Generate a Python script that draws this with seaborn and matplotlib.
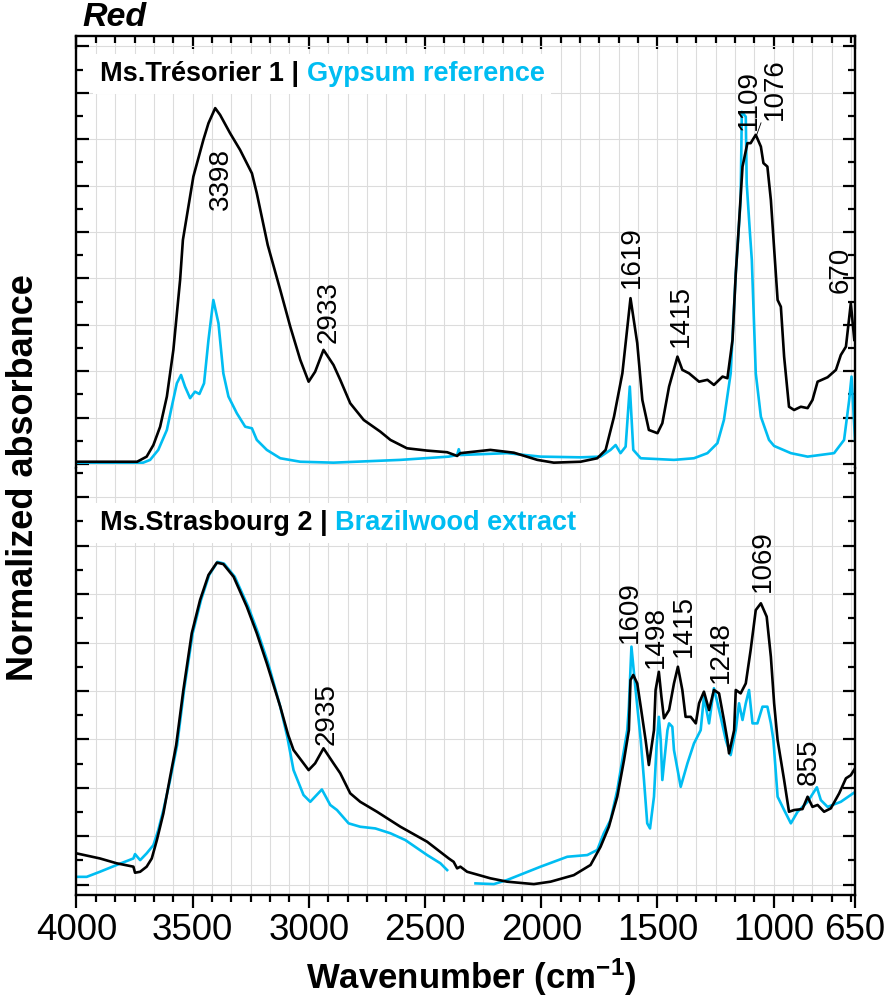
import numpy as np
import pandas as pd
import matplotlib
matplotlib.use('Agg')
import matplotlib.pyplot as plt
import matplotlib.ticker as mticker
import seaborn as sns

# spectra: wavenumber (cm-1) / normalized absorbance
# top panel, Ms.Tresorier 1 (black)
tres_wn = [4000, 3739, 3698, 3669, 3640, 3611, 3583, 3554, 3542, 3497,
           3454, 3432, 3403, 3382, 3339, 3296, 3245, 3224, 3177, 3123,
           3080, 3037, 3001, 2973, 2937, 2894, 2865, 2822, 2764, 2693,
           2649, 2578, 2491, 2405, 2362, 2348, 2219, 2118, 2017, 1946,
           1831, 1759, 1723, 1687, 1651, 1616, 1587, 1565, 1537, 1500,
           1479, 1450, 1414, 1393, 1364, 1321, 1285, 1257, 1220, 1199,
           1177, 1163, 1155, 1134, 1113, 1099, 1077, 1055, 1044, 1027,
           1012, 999, 983, 969, 955, 934, 912, 883, 854, 833,
           811, 768, 732, 711, 689, 668, 653]
tres_abs = [0.010, 0.010, 0.032, 0.082, 0.161, 0.291, 0.492, 0.794, 0.966, 1.239,
            1.397, 1.469, 1.534, 1.505, 1.426, 1.354, 1.253, 1.167, 0.944, 0.750,
            0.592, 0.449, 0.355, 0.398, 0.492, 0.427, 0.363, 0.262, 0.190, 0.140,
            0.104, 0.068, 0.058, 0.051, 0.035, 0.047, 0.061, 0.049, 0.018, 0.006,
            0.010, 0.025, 0.061, 0.204, 0.391, 0.715, 0.521, 0.276, 0.147, 0.133,
            0.176, 0.334, 0.463, 0.406, 0.391, 0.355, 0.363, 0.341, 0.377, 0.370,
            0.535, 0.822, 0.944, 1.282, 1.383, 1.383, 1.419, 1.368, 1.297, 1.282,
            1.138, 0.944, 0.707, 0.678, 0.463, 0.247, 0.233, 0.247, 0.241, 0.276,
            0.355, 0.374, 0.406, 0.470, 0.506, 0.693, 0.535]

# top panel, gypsum reference (cyan)
gyps_wn = [4000, 3713, 3683, 3648, 3611, 3590, 3568, 3550, 3533, 3511,
           3490, 3471, 3451, 3432, 3411, 3389, 3368, 3346, 3310, 3274,
           3245, 3224, 3181, 3123, 3037, 2894, 2606, 2398, 2362, 2355,
           2348, 2147, 2003, 1831, 1745, 1702, 1680, 1659, 1637, 1619,
           1604, 1572, 1429, 1343, 1285, 1242, 1214, 1185, 1163, 1142,
           1137, 1120, 1116, 1102, 1094, 1077, 1055, 1020, 998, 926,
           854, 740, 697, 675, 665, 653, 650]
gyps_abs = [0.006, 0.006, 0.018, 0.061, 0.147, 0.247, 0.348, 0.384, 0.334, 0.284,
            0.312, 0.302, 0.348, 0.535, 0.707, 0.607, 0.391, 0.291, 0.219, 0.161,
            0.154, 0.104, 0.061, 0.025, 0.010, 0.006, 0.018, 0.032, 0.039, 0.064,
            0.039, 0.047, 0.032, 0.029, 0.032, 0.061, 0.082, 0.047, 0.075, 0.334,
            0.061, 0.025, 0.018, 0.025, 0.047, 0.090, 0.190, 0.391, 0.822, 1.138,
            1.518, 1.497, 1.210, 0.995, 0.880, 0.391, 0.204, 0.104, 0.078, 0.047,
            0.032, 0.047, 0.104, 0.276, 0.377, 0.161, 0.104]

# bottom panel, Ms.Strasbourg 2 (black)
stras_wn = [4000, 3899, 3827, 3755, 3748, 3726, 3698, 3676, 3654, 3626,
            3597, 3571, 3540, 3504, 3468, 3432, 3396, 3368, 3324, 3267,
            3224, 3181, 3123, 3089, 3066, 3001, 2973, 2937, 2894, 2865,
            2822, 2779, 2707, 2606, 2491, 2398, 2377, 2362, 2348, 2319,
            2219, 2147, 2032, 1960, 1860, 1788, 1745, 1709, 1673, 1644,
            1623, 1616, 1604, 1587, 1572, 1551, 1537, 1515, 1508, 1494,
            1483, 1472, 1450, 1429, 1412, 1393, 1379, 1357, 1335, 1321,
            1300, 1278, 1257, 1235, 1214, 1199, 1192, 1170, 1163, 1142,
            1120, 1099, 1077, 1055, 1030, 1012, 998, 983, 955, 934,
            912, 876, 854, 833, 811, 783, 754, 718, 689, 668,
            650]
stras_abs = [0.129, 0.108, 0.088, 0.074, 0.049, 0.053, 0.074, 0.108, 0.184, 0.294,
             0.445, 0.576, 0.804, 1.038, 1.176, 1.279, 1.330, 1.324, 1.272, 1.148,
             1.038, 0.914, 0.735, 0.618, 0.556, 0.473, 0.501, 0.563, 0.501, 0.460,
             0.377, 0.342, 0.301, 0.239, 0.177, 0.108, 0.094, 0.067, 0.074, 0.053,
             0.026, 0.012, 0.002, 0.012, 0.039, 0.081, 0.156, 0.239, 0.363, 0.514,
             0.638, 0.845, 0.866, 0.831, 0.735, 0.597, 0.494, 0.638, 0.804, 0.879,
             0.776, 0.687, 0.721, 0.831, 0.900, 0.804, 0.693, 0.693, 0.666, 0.749,
             0.797, 0.721, 0.804, 0.790, 0.680, 0.597, 0.542, 0.638, 0.804, 0.790,
             0.831, 0.969, 1.134, 1.162, 1.107, 0.941, 0.749, 0.597, 0.432, 0.301,
             0.308, 0.312, 0.363, 0.321, 0.329, 0.301, 0.315, 0.377, 0.439, 0.452,
             0.480]

# bottom panel, brazilwood extract (cyan) - two pieces, gap near 2400-2280
braz_wn_a = [4000, 3956, 3899, 3827, 3755, 3748, 3726, 3698, 3669, 3648,
             3626, 3597, 3567, 3537, 3500, 3464, 3429, 3393, 3365, 3319,
             3261, 3218, 3175, 3123, 3093, 3066, 3023, 2994, 2944, 2908,
             2879, 2829, 2779, 2714, 2649, 2585, 2491, 2434, 2405]
braz_abs_a = [0.032, 0.032, 0.053, 0.081, 0.108, 0.126, 0.101, 0.129, 0.163, 0.225,
              0.308, 0.432, 0.576, 0.804, 1.038, 1.176, 1.279, 1.333, 1.326, 1.272,
              1.148, 1.038, 0.914, 0.735, 0.611, 0.473, 0.370, 0.342, 0.393, 0.329,
              0.308, 0.253, 0.239, 0.232, 0.212, 0.184, 0.122, 0.088, 0.060]
braz_wn_b = [2283, 2204, 2147, 2003, 1888, 1802, 1759, 1731, 1702, 1673,
             1644, 1630, 1623, 1612, 1594, 1572, 1558, 1544, 1532, 1515,
             1504, 1494, 1486, 1479, 1457, 1450, 1436, 1429, 1400, 1371,
             1343, 1314, 1300, 1278, 1257, 1228, 1206, 1185, 1163, 1149,
             1134, 1120, 1106, 1091, 1070, 1048, 1027, 1012, 1001, 983,
             955, 926, 897, 854, 814, 797, 768, 711, 649]
braz_abs_b = [0.005, 0.002, 0.019, 0.074, 0.115, 0.122, 0.143, 0.212, 0.267, 0.390,
              0.556, 0.638, 0.735, 0.983, 0.804, 0.597, 0.432, 0.253, 0.232, 0.363,
              0.569, 0.693, 0.597, 0.432, 0.638, 0.666, 0.652, 0.556, 0.404, 0.501,
              0.583, 0.638, 0.776, 0.666, 0.811, 0.693, 0.597, 0.535, 0.638, 0.749,
              0.680, 0.749, 0.804, 0.666, 0.666, 0.735, 0.735, 0.666, 0.597, 0.363,
              0.308, 0.253, 0.301, 0.342, 0.402, 0.349, 0.321, 0.342, 0.383]

top_peaks = ['3398', '2933', '1619', '1415', '1109', '1076', '670']
bot_peaks = ['2935', '1609', '1498', '1415', '1248', '1069', '855']
x_ticks = [4000, 3500, 3000, 2500, 2000, 1500, 1000, 650]

# where the peak labels sit (wavenumber, absorbance)
top_lab_x = [3380, 2915, 1610, 1399, 1106, 994, 712]
top_lab_y = [1.095, 0.522, 0.759, 0.505, 1.440, 1.483, 0.738]
bot_lab_x = [2924, 1618, 1506, 1386, 1226, 1045, 847]
bot_lab_y = [0.576, 0.998, 0.895, 0.940, 0.833, 1.209, 0.411]

CYAN = '#00BDF2'
GRID = '#dcdcdc'

plt.rcParams['font.family'] = ['Liberation Sans', 'DejaVu Sans']
plt.rcParams['mathtext.fontset'] = 'custom'
plt.rcParams['mathtext.rm'] = 'Liberation Sans'
plt.rcParams['mathtext.it'] = 'Liberation Sans:italic'
plt.rcParams['mathtext.bf'] = 'Liberation Sans:bold'

fig = plt.figure(figsize=(8.85, 10), dpi=100)
ax_top = fig.add_axes([0.0864, 0.532, 0.8797, 0.4325])
ax_bot = fig.add_axes([0.0864, 0.105, 0.8797, 0.427])


def draw(ax, wn, ab, color):
    sns.lineplot(x=wn, y=ab, ax=ax, color=color, lw=1.9, sort=False, estimator=None)


def style(ax, ylim):
    ax.set_xlim(4000, 650)
    ax.set_ylim(*ylim)
    ax.set_xticks(x_ticks, labels=[str(v) for v in x_ticks])
    ax.xaxis.set_minor_locator(mticker.MultipleLocator(250 / 3))
    ax.yaxis.set_major_locator(mticker.MultipleLocator(0.2))
    ax.yaxis.set_minor_locator(mticker.MultipleLocator(0.1))
    ax.grid(which='both', axis='x', color=GRID, lw=0.8)
    ax.grid(which='major', axis='y', color=GRID, lw=0.8)
    ax.set_axisbelow(True)
    for s in ax.spines.values():
        s.set_linewidth(1.7)
    ax.tick_params(axis='y', which='both', left=True, right=True, direction='in',
                   labelleft=False, width=1.6)
    ax.tick_params(axis='both', which='major', length=9)
    ax.tick_params(axis='both', which='minor', length=5)
    ax.set_xlabel('')
    ax.set_ylabel('')


draw(ax_top, gyps_wn, gyps_abs, CYAN)
draw(ax_top, tres_wn, tres_abs, 'black')
draw(ax_bot, braz_wn_a, braz_abs_a, CYAN)
draw(ax_bot, braz_wn_b, braz_abs_b, CYAN)
draw(ax_bot, stras_wn, stras_abs, 'black')

style(ax_top, (-0.017, 1.847))
style(ax_bot, (-0.043, 1.721))

ax_top.spines['bottom'].set_visible(False)
ax_bot.spines['top'].set_visible(False)
ax_top.tick_params(axis='x', which='both', bottom=False, top=True, labelbottom=False,
                   direction='in', width=1.6)
ax_bot.tick_params(axis='x', which='both', bottom=True, top=False, direction='out',
                   width=1.6, labelsize=26.5, pad=4)


def panel_label(ax, y, first, second):
    box = dict(fc='white', ec='none', pad=5)
    t = ax.text(3899, y, first, fontsize=19.5, fontweight='bold', color='black',
                va='baseline', ha='left', bbox=box, zorder=4)
    ax.annotate(second, xy=(1, 0), xycoords=t, xytext=(5.5, 0), textcoords='offset points',
                fontsize=19.5, fontweight='bold', color=CYAN, va='bottom', ha='left',
                bbox=box, zorder=4)


panel_label(ax_top, 1.651, 'Ms.Trésorier 1 |', 'Gypsum reference')
panel_label(ax_bot, 1.465, 'Ms.Strasbourg 2 |', 'Brazilwood extract')

for s, x, y in zip(top_peaks, top_lab_x, top_lab_y):
    if s == '1076':
        ax_top.annotate(s, xy=(1073, 1.419), xytext=(x, y), rotation=90, ha='center',
                        va='bottom', fontsize=20,
                        arrowprops=dict(arrowstyle='-', lw=0.6, color='black',
                                        relpos=(0, 0), shrinkA=0, shrinkB=0))
    else:
        ax_top.text(x, y, s, rotation=90, ha='center', va='bottom', fontsize=20)

for s, x, y in zip(bot_peaks, bot_lab_x, bot_lab_y):
    ax_bot.text(x, y, s, rotation=90, ha='center', va='bottom', fontsize=20)

fig.text(82 / 885, 0.974, 'Red', fontsize=24.5, fontweight='bold', fontstyle='italic',
         ha='left', va='baseline')
fig.text(471 / 885, 1 - 989 / 1000, r'Wavenumber (cm$^{\mathbf{-1}}$)', fontsize=25,
         fontweight='bold', ha='center', va='baseline')
fig.text(24 / 885, 1 - 478 / 1000, 'Normalized absorbance', rotation=90, fontsize=26,
         fontweight='bold', ha='center', va='center')

fig.savefig('out.png', dpi=100)
